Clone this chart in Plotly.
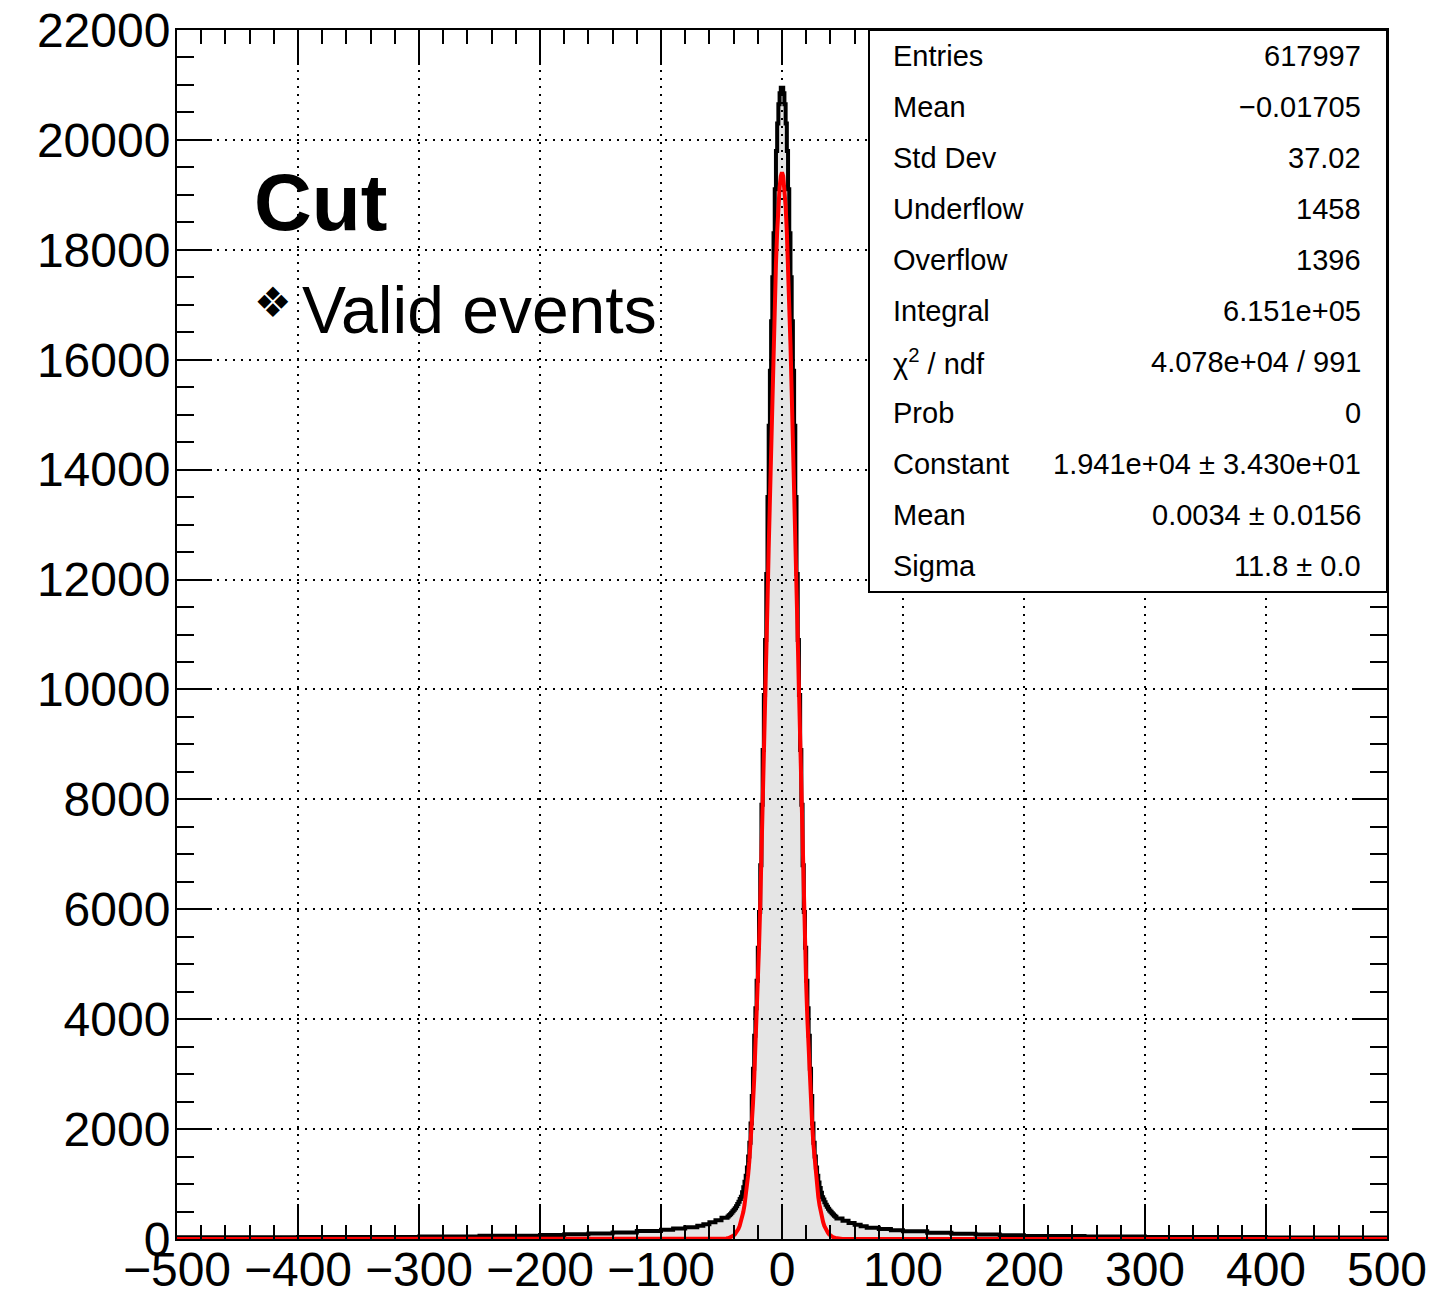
import plotly.graph_objects as go

# ---------------- data ----------------
# histogram: bin edges and counts (fine 1-unit bins in the core, coarser in the tails)
left_tail_edges = [-500, -400, -300, -250, -200, -180, -160, -140, -120, -100, -90, -80, -70, -65, -60, -55, -50]
left_tail_counts = [31, 37, 47, 58, 71, 85, 100, 120, 147, 167, 190, 215, 243, 268, 303, 343, 388]

core_edges = list(range(-45, 46))
# counts of the core bins, from the centre outwards (bin [0,1], [1,2], ...)
core_counts_right = [20950, 20850, 20650, 20300, 19800, 19100, 18300, 17500, 16700, 15800,
                     14800, 13500, 12100, 10900, 9900, 8900, 7900, 6800, 5950, 5300,
                     4700, 4200, 3700, 3100, 2600, 2100, 1750, 1500, 1300, 1150,
                     1030, 930, 840, 760, 720, 670, 625, 585, 550, 520,
                     495, 470, 445, 425, 405]
core_counts_left = [20950, 20850, 20650, 20300, 19800, 19100, 18300, 17500, 16700, 15800,
                    14800, 13500, 12100, 10900, 9900, 8900, 7900, 6800, 5950, 5300,
                    4700, 4200, 3700, 3100, 2600, 2100, 1750, 1500, 1300, 1150,
                    1040, 940, 850, 770, 730, 680, 635, 595, 560, 530,
                    505, 478, 452, 430, 410]

right_tail_edges = [45, 50, 55, 60, 65, 70, 80, 90, 100, 120, 140, 160, 180, 200, 250, 300, 400, 500]
right_tail_counts = [375, 330, 290, 258, 232, 205, 180, 160, 140, 113, 94, 80, 68, 55, 45, 35, 29]

fit_x = [-500, -60, -50, -46, -44, -42, -40, -39, -38, -37, -36, -35, -34, -33, -32, -31, -30, -29, -28, -27,
         -26, -25, -24, -23, -22, -21, -20, -19, -18, -17, -16, -15, -14, -13, -12, -11, -10, -9, -8, -7,
         -6, -5, -4, -3, -2, -1, 0, 1, 2, 3, 4, 5, 6, 7, 8, 9, 10, 11, 12, 13, 14, 15, 16, 17, 18, 19, 20,
         21, 22, 23, 24, 25, 26, 27, 28, 29, 30, 31, 32, 33, 34, 35, 36, 37, 38, 39, 40, 42, 44, 46, 50, 60, 500]
fit_y = [0, 0, 2, 10, 19, 35, 62, 82, 109, 142, 185, 238, 306, 389, 491, 616, 766, 947, 1162, 1416,
         1713, 2057, 2453, 2904, 3413, 3983, 4615, 5309, 6064, 6876, 7741, 8652, 9602, 10580, 11574, 12570, 13555, 14511, 15425, 16278,
         17056, 17743, 18326, 18793, 19133, 19340, 19410, 19340, 19133, 18793, 18326, 17743, 17056, 16278, 15425, 14511, 13555,
         12570, 11574, 10580, 9602, 8652, 7741, 6876, 6064, 5309, 4615,
         3983, 3413, 2904, 2453, 2057, 1713, 1416, 1162, 947, 766, 616, 491, 389, 306, 238, 185, 142, 109, 82, 62, 35, 19, 10, 2, 0, 0]

stats_labels = ["Entries", "Mean", "Std Dev", "Underflow", "Overflow", "Integral",
                "χ<sup>2</sup> / ndf", "Prob", "Constant", "Mean", "Sigma"]
stats_values = ["617997", "\u22120.01705", "37.02", "1458", "1396", "6.151e+05",
                "4.078e+04 / 991", "0", "1.941e+04 ± 3.430e+01", "0.0034 ± 0.0156", "11.8 ± 0.0"]

legend_title = "Cut"
legend_entry = "Valid events"

# ---------------- assemble histogram steps ----------------
edges = left_tail_edges + core_edges + right_tail_edges[1:]
counts = left_tail_counts + core_counts_left[::-1] + core_counts_right + right_tail_counts
step_x = edges
step_y = counts + [counts[-1]]

W, H = 1435, 1299
L, R, T, B = 177, 48, 30, 60
PW, PH = W - L - R, H - T - B


def px(x):
    return (x - L) / PW


def py(y):
    return (H - B - y) / PH


FONT = "Liberation Sans, Arial, Helvetica, sans-serif"

fig = go.Figure()
fig.add_trace(go.Scatter(
    x=step_x, y=step_y, mode="lines", line=dict(color="black", width=4, shape="hv"),
    fill="tozeroy", fillcolor="rgba(0,0,0,0.10)", hoverinfo="skip", showlegend=False))
fig.add_trace(go.Scatter(
    x=fit_x, y=fit_y, mode="lines", line=dict(color="#ff0000", width=4),
    hoverinfo="skip", showlegend=False))

axis_common = dict(
    showline=True, linecolor="black", linewidth=2, mirror="all",
    ticks="inside", tickcolor="black", tickwidth=2, ticklen=35,
    showgrid=True, gridcolor="black", gridwidth=2, griddash="2px,6px",
    zeroline=False, layer="above traces", automargin=False,
    tickformat="d",
    tickfont=dict(family=FONT, size=48, color="black"),
)

fig.update_xaxes(range=[-500, 500], dtick=100, tick0=0, ticklabelstandoff=-13,
                 minor=dict(ticks="inside", ticklen=14, tickwidth=2, tickcolor="black", dtick=20, showgrid=False),
                 **axis_common)
fig.update_yaxes(range=[0, 22000], dtick=2000, tick0=0, ticklabelstandoff=-5,
                 minor=dict(ticks="inside", ticklen=17, tickwidth=2, tickcolor="black", dtick=500, showgrid=False),
                 **axis_common)

annotations = []
# stats box
box_x0, box_x1, box_y0, box_y1 = 869, 1387, 30, 592
row_h = (box_y1 - box_y0) / len(stats_labels)
for i, (lab, val) in enumerate(zip(stats_labels, stats_values)):
    yc = box_y0 + row_h * (i + 0.5)
    annotations.append(dict(x=px(891), y=py(yc), xref="paper", yref="paper", text=lab,
                            xanchor="left", yanchor="middle", showarrow=False,
                            font=dict(family=FONT, size=29, color="black")))
    annotations.append(dict(x=px(1363), y=py(yc), xref="paper", yref="paper", text=val,
                            xanchor="right", yanchor="middle", showarrow=False,
                            font=dict(family=FONT, size=29, color="black")))

annotations.append(dict(x=px(252), y=py(202), xref="paper", yref="paper", text="<b>" + legend_title + "</b>",
                        xanchor="left", yanchor="middle", showarrow=False,
                        font=dict(family=FONT, size=80, color="black")))
annotations.append(dict(x=px(252), y=py(302), xref="paper", yref="paper", text="\u2756",
                        xanchor="left", yanchor="middle", showarrow=False,
                        font=dict(family="DejaVu Sans", size=42, color="black")))
annotations.append(dict(x=px(300), y=py(310), xref="paper", yref="paper", text=legend_entry,
                        xanchor="left", yanchor="middle", showarrow=False,
                        font=dict(family=FONT, size=66, color="black")))

shapes = [dict(type="rect", xref="paper", yref="paper", x0=px(box_x0), x1=px(box_x1),
               y0=py(box_y1), y1=py(box_y0), line=dict(color="black", width=2),
               fillcolor="white", layer="above")]

fig.update_layout(
    width=W, height=H, margin=dict(l=L, r=R, t=T, b=B, pad=0, autoexpand=False),
    paper_bgcolor="white", plot_bgcolor="white",
    annotations=annotations, shapes=shapes, showlegend=False,
    font=dict(family=FONT, color="black"),
)

fig.write_html("out.html")
